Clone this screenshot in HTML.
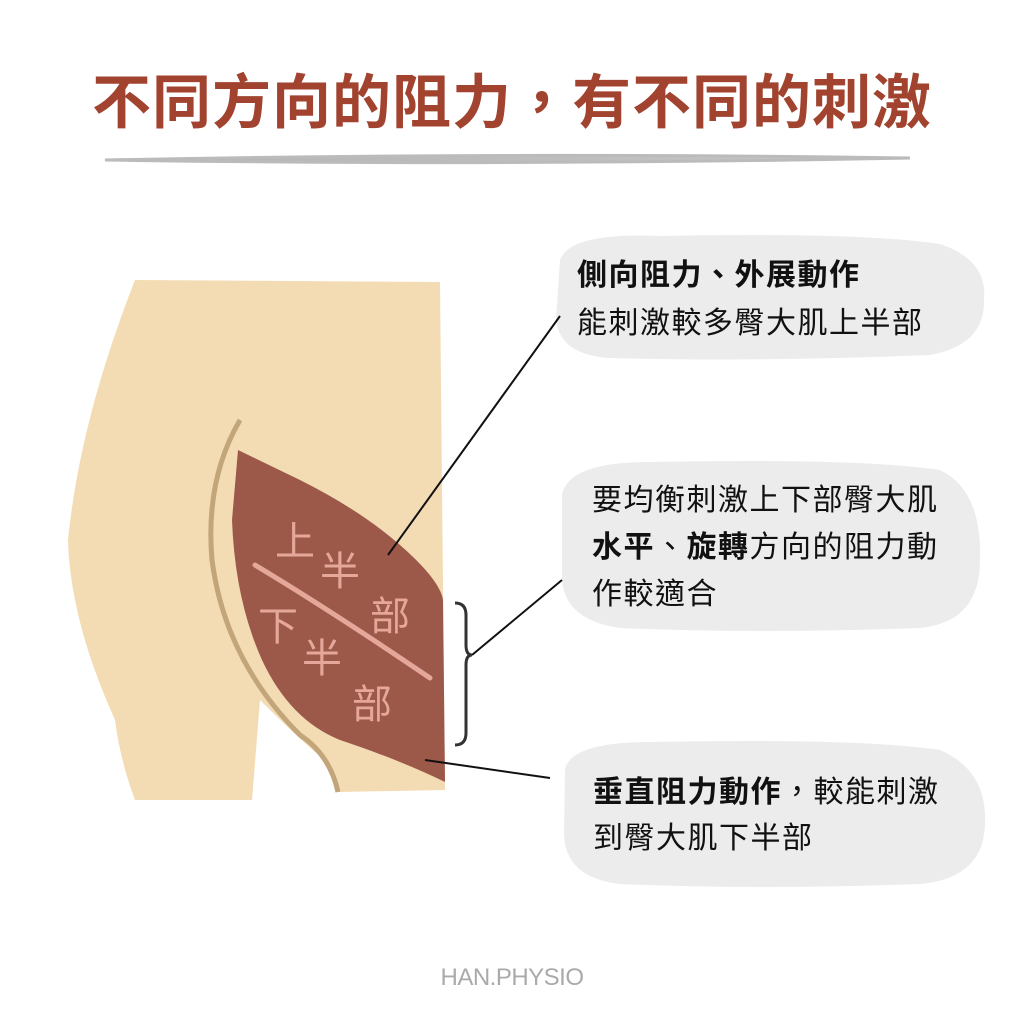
<!DOCTYPE html>
<html><head><meta charset="utf-8"><style>
body{margin:0;width:1024px;height:1024px;background:#fff;overflow:hidden;font-family:"Liberation Sans","Noto Sans CJK TC",sans-serif;}
.t{position:absolute;white-space:nowrap;}
</style></head><body>
<svg width="1024" height="1024" style="position:absolute;left:0;top:0">
<defs><linearGradient id="g" x1="0" x2="1"><stop offset="0" stop-color="#bbb" stop-opacity="0.3"/><stop offset="0.1" stop-color="#b5b5b5"/><stop offset="0.9" stop-color="#c5c5c5"/><stop offset="1" stop-color="#ccc" stop-opacity="0.3"/></linearGradient></defs>
<path d="M105 160 Q500 152 910 158 Q500 166 105 160Z" fill="url(#g)" stroke="#bbb" stroke-width="3"/>
<path d="M135 280 L440 282 L445 790 L338 792 Q330 760 315 752 Q290 730 260 700 L252 800 L135 800 Q120 760 115 720 Q70 620 68 540 Q80 420 135 280Z" fill="#f3dcb4"/>
<path d="M240 420 Q205 480 212 560 Q225 660 300 735 Q330 755 338 792" fill="none" stroke="#c3a57a" stroke-width="5"/>
<path d="M238 450 L300 480 Q360 510 400 545 Q440 580 443 600 L445 782 Q400 760 340 740 Q290 720 262 660 Q235 600 232 520 Z" fill="#9c5849"/>
<path d="M255 565 Q330 610 430 678" fill="none" stroke="#e4a79a" stroke-width="5" stroke-linecap="round"/>
<g fill="#e4a79a" font-family="Noto Sans CJK TC,sans-serif" font-size="40">
<text x="275" y="555">上</text><text x="320" y="585">半</text><text x="370" y="630">部</text>
<text x="258" y="640">下</text><text x="302" y="672">半</text><text x="352" y="718">部</text></g>
<path d="M560 260 Q570 232 660 236 Q860 232 940 244 Q988 260 984 300 Q985 345 930 355 Q760 362 610 358 Q560 355 556 320 Z" fill="#ececec"/>
<path d="M562 495 Q568 462 650 462 Q860 458 940 470 Q982 490 980 560 Q980 622 920 628 Q760 634 620 628 Q565 620 562 580 Z" fill="#ececec"/>
<path d="M565 770 Q570 742 650 742 Q860 738 940 750 Q986 770 985 820 Q986 878 920 884 Q760 890 620 884 Q566 878 564 835 Z" fill="#ececec"/>
<g stroke="#111" stroke-width="2" fill="none">
<line x1="388" y1="555" x2="560" y2="316"/>
<line x1="425" y1="760" x2="550" y2="778"/>
<line x1="472" y1="655" x2="562" y2="580"/>
</g>
<path d="M455 603 Q466 603 466 615 L466 645 Q466 655 472 655 Q466 655 466 665 L466 733 Q466 745 455 745" fill="none" stroke="#333" stroke-width="3"/>
</svg>
<div class="t" style="left:0;width:1024px;text-align:center;top:55px;font-size:59px;font-weight:bold;color:#a1432f;letter-spacing:1px">不同方向的阻力，有不同的刺激</div>
<div class="t" style="left:577px;top:252px;font-size:30px;letter-spacing:1.5px;line-height:48px;color:#111"><b>側向阻力、外展動作</b><br>能刺激較多臀大肌上半部</div>
<div class="t" style="left:592px;top:477px;font-size:30px;letter-spacing:1.5px;line-height:47px;color:#111">要均衡刺激上下部臀大肌<br><b>水平</b>、<b>旋轉</b>方向的阻力動<br>作較適合</div>
<div class="t" style="left:593px;top:770px;font-size:30px;letter-spacing:1.5px;line-height:46px;color:#111"><b>垂直阻力動作</b>，較能刺激<br>到臀大肌下半部</div>
<div class="t" style="left:0;width:1024px;text-align:center;top:964px;font-size:24px;color:#aaa;letter-spacing:-0.5px">HAN.PHYSIO</div>
</body></html>
